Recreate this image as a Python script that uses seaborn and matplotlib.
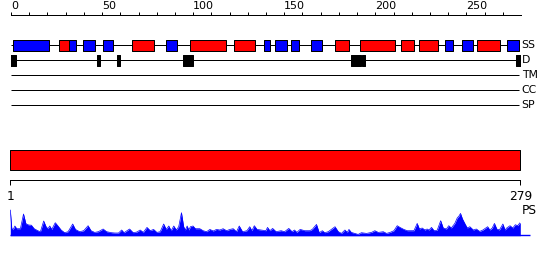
import matplotlib
matplotlib.use("Agg")
import matplotlib.pyplot as plt
import seaborn as sns

sns.set_theme(style="white")
plt.rcParams['font.family'] = ['DejaVu Sans']

# ---------------- data ----------------
SEQ_START, SEQ_END = 1, 279
TRACKS = ["SS", "D", "TM", "CC", "SP"]
RULER_MAJOR = [0, 50, 100, 150, 200, 250]
RULER_MINOR = list(range(0, 280, 10))

# secondary structure: helices (red) and strands (blue), residue edges
HELICES = [(26.5, 31.7), (66.6, 78.7), (98.5, 117.9), (122.6, 133.8), (178.0, 185.4),
           (191.8, 211.0), (214.3, 221.1), (224.2, 234.3), (255.7, 268.2)]
STRANDS = [(1.3, 20.7), (31.7, 35.5), (39.7, 46.0), (50.7, 55.8), (85.0, 91.0),
           (139.0, 142.0), (145.0, 151.4), (153.8, 158.0), (164.7, 171.0),
           (238.5, 242.5), (247.5, 253.5), (272.5, 278.8)]
# disorder segments (black)
DISORDER = [(-0.5, 2.7), (47.2, 48.9), (58.2, 59.7), (94.5, 99.8),
            (186.7, 192.2), (192.8, 194.4), (277.3, 279.9)]

# profile score track (PS)
PS_RES = [1, 1.8, 2.5, 3.5, 4.5, 6.5, 8.2, 9.5, 11, 12.5,
          14, 16, 17.4, 19.2, 20.5, 21.5, 22.5, 23.6, 25.5, 27,
          28.7, 30.6, 32.5, 35, 36.5, 38.8, 41, 43.4, 45, 47,
          49, 51.6, 53.5, 56.2, 58, 60, 61.7, 63, 66, 68,
          70, 71.8, 73.5, 75.5, 77.3, 79.1, 80.9, 82.7, 84.6, 86,
          87.4, 88.7, 90.1, 91.5, 92.8, 94.3, 95.5, 96.4, 97.4, 98.3,
          99.2, 100.6, 101.9, 104.3, 106.1, 108, 109.8, 111.6, 113.4, 115.2,
          117, 118.9, 120.7, 122.5, 124.3, 125.8, 127.6, 130, 131.5, 132.7,
          134, 135.5, 137.6, 140.3, 141.2, 142.5, 144, 145.9, 148.6, 150.5,
          152.8, 154.6, 155.9, 157.2, 159, 161.5, 164.2, 165.6, 167.9, 169.4,
          171.1, 172.4, 174.3, 178, 179.8, 181.5, 183.4, 184.7, 185.6, 186.9,
          188.8, 190.6, 192.4, 195.2, 197.9, 199.7, 201.6, 204.3, 206.1, 208,
          210.1, 211.9, 213.4, 215.5, 217.4, 219, 221, 222.8, 224, 225.5,
          227, 228.2, 229.2, 230.6, 232, 233.7, 235.6, 237, 238.7, 240,
          241.4, 243.3, 244.6, 245.7, 246.4, 247.5, 248.9, 250.1, 251.5, 253.4,
          255, 256.9, 258.6, 260.2, 261.2, 262.4, 263.7, 264.9, 266.2, 267.6,
          269.5, 270.7, 271.6, 273.4, 274.9, 276.3, 277.5, 279]
PS_VAL = [25.7, 7.3, 6, 9.7, 7, 7, 21.7, 12, 10.7, 10.5,
          7, 5, 4, 14.7, 9, 7, 9.7, 6.3, 13, 9.7,
          5.7, 3, 4, 11.7, 6.3, 4, 5, 10, 5, 3.3,
          4, 6.7, 4, 3, 2.7, 2.7, 5.7, 3, 6.7, 3,
          3.7, 5.7, 3.3, 8.3, 5, 6.3, 3.3, 4, 11.7, 6.3,
          9.7, 5, 9.7, 5.7, 9, 23, 9, 5.7, 9.7, 5.7,
          9, 9.7, 7, 7, 5, 4, 6.3, 4.7, 6.3, 5.7,
          7, 5, 6.3, 7, 4, 9.7, 4, 5, 9, 5,
          10, 6.3, 5.7, 5, 8.3, 5, 7.3, 4, 5, 4,
          7.3, 4, 5.7, 3.3, 6.3, 5, 5, 6.3, 11.3, 3,
          5, 3, 4, 9, 4, 2.3, 5.7, 3.3, 6.3, 3.3,
          2.3, 1.3, 3, 2.3, 3.3, 5, 3.3, 4, 2.3, 3.3,
          5, 10, 8.3, 6.3, 5, 5, 5, 12.3, 6.7, 7.7,
          5.7, 6.7, 5.7, 8.3, 5, 5.5, 15, 7.7, 6.7, 10,
          7.7, 12.3, 17.7, 20, 22.3, 16.7, 11.7, 7.7, 9, 5.7,
          6.7, 4.3, 5.7, 7.7, 9, 5.7, 7.7, 12.3, 6.7, 5.7,
          11.7, 5.7, 7.7, 10, 7.7, 11, 10, 13.3]

# ---------------- layout helpers ----------------
W, H = 550, 260
LW = 0.72  # one pixel
fig = plt.figure(figsize=(W / 100, H / 100), dpi=100)
fig.patch.set_facecolor("white")


def px_axes(left, top, right, bottom):
    a = fig.add_axes([left / W, 1 - bottom / H, (right - left) / W, (bottom - top) / H])
    a.set_facecolor("none")
    return a


# ---------------- ruler + feature tracks ----------------
ax = px_axes(11, 15, 521, 115)
ax.set_xlim(0, 280)
ax.set_ylim(115, 15)
for s in ("left", "right", "bottom"):
    ax.spines[s].set_visible(False)
ax.spines["top"].set_color("black")
ax.spines["top"].set_linewidth(LW)
ax.xaxis.set_ticks_position("top")
ax.set_xticks(RULER_MAJOR)
ax.set_xticks(RULER_MINOR, minor=True)
ax.set_xticklabels([str(v) for v in RULER_MAJOR])
ax.tick_params(axis="x", which="both", direction="out", length=2.3, width=LW,
               color="black", labelcolor="black", labelsize=8, pad=0.3)
for t in ax.get_xticklabels():
    t.set_horizontalalignment("left")
ax.set_yticks([])

row0, step, half = 45.3, 15, 5.3
for i, name in enumerate(TRACKS):
    y = row0 + i * step
    ax.hlines(y, 0, SEQ_END, color="black", lw=LW)
    ax.text(280.0 if i == 0 else 280.4, y, name, ha="left", va="center",
            fontsize=7.8, color="black", clip_on=False)

ax.broken_barh([(s, e - s) for s, e in HELICES], (row0 - half, 2 * half),
               facecolors="#ff0000", edgecolors="black", linewidth=LW, zorder=3)
ax.broken_barh([(s, e - s) for s, e in STRANDS], (row0 - half, 2 * half),
               facecolors="#0000ff", edgecolors="black", linewidth=LW, zorder=3)
ax.broken_barh([(s, e - s) for s, e in DISORDER], (row0 + step - half, 2 * half),
               facecolors="black", edgecolors="black", linewidth=LW, zorder=3)

# ---------------- full-length bar + sequence axis ----------------
axb = px_axes(10.3, 145, 520.3, 180.3)
axb.set_xlim(SEQ_START, SEQ_END)
axb.set_ylim(0, 35.3)
for s in ("left", "right", "top"):
    axb.spines[s].set_visible(False)
axb.spines["bottom"].set_color("black")
axb.spines["bottom"].set_linewidth(LW)
axb.broken_barh([(SEQ_START, SEQ_END - SEQ_START)], (10.3, 20),
                facecolors="#ff0000", edgecolors="black", linewidth=LW)
axb.set_xticks([SEQ_START, SEQ_END])
axb.set_xticklabels([str(SEQ_START), str(SEQ_END)])
axb.tick_params(axis="x", direction="out", length=3.6, width=LW, color="black",
                labelcolor="black", labelsize=8.8, pad=3.6, bottom=True)
axb.set_yticks([])

# ---------------- PS profile ----------------
axp = px_axes(10.3, 205.7, 520.3, 235.7)
axp.set_xlim(SEQ_START, SEQ_END)
axp.set_ylim(0, 30)
axp.fill_between(PS_RES, PS_VAL, 0, color="#0000ff", lw=0)
sns.lineplot(x=PS_RES, y=PS_VAL, ax=axp, color="#0000ff", lw=0.5,
             estimator=None, sort=False, legend=False)
axp.hlines(0.3, SEQ_START, 284.5, color="#0000ff", lw=1.0, clip_on=False)
axp.text(279.8, 25.2, "PS", ha="left", va="center", fontsize=8.8,
         color="black", clip_on=False)
axp.set_axis_off()

fig.savefig("out.png", dpi=100, facecolor="white")
